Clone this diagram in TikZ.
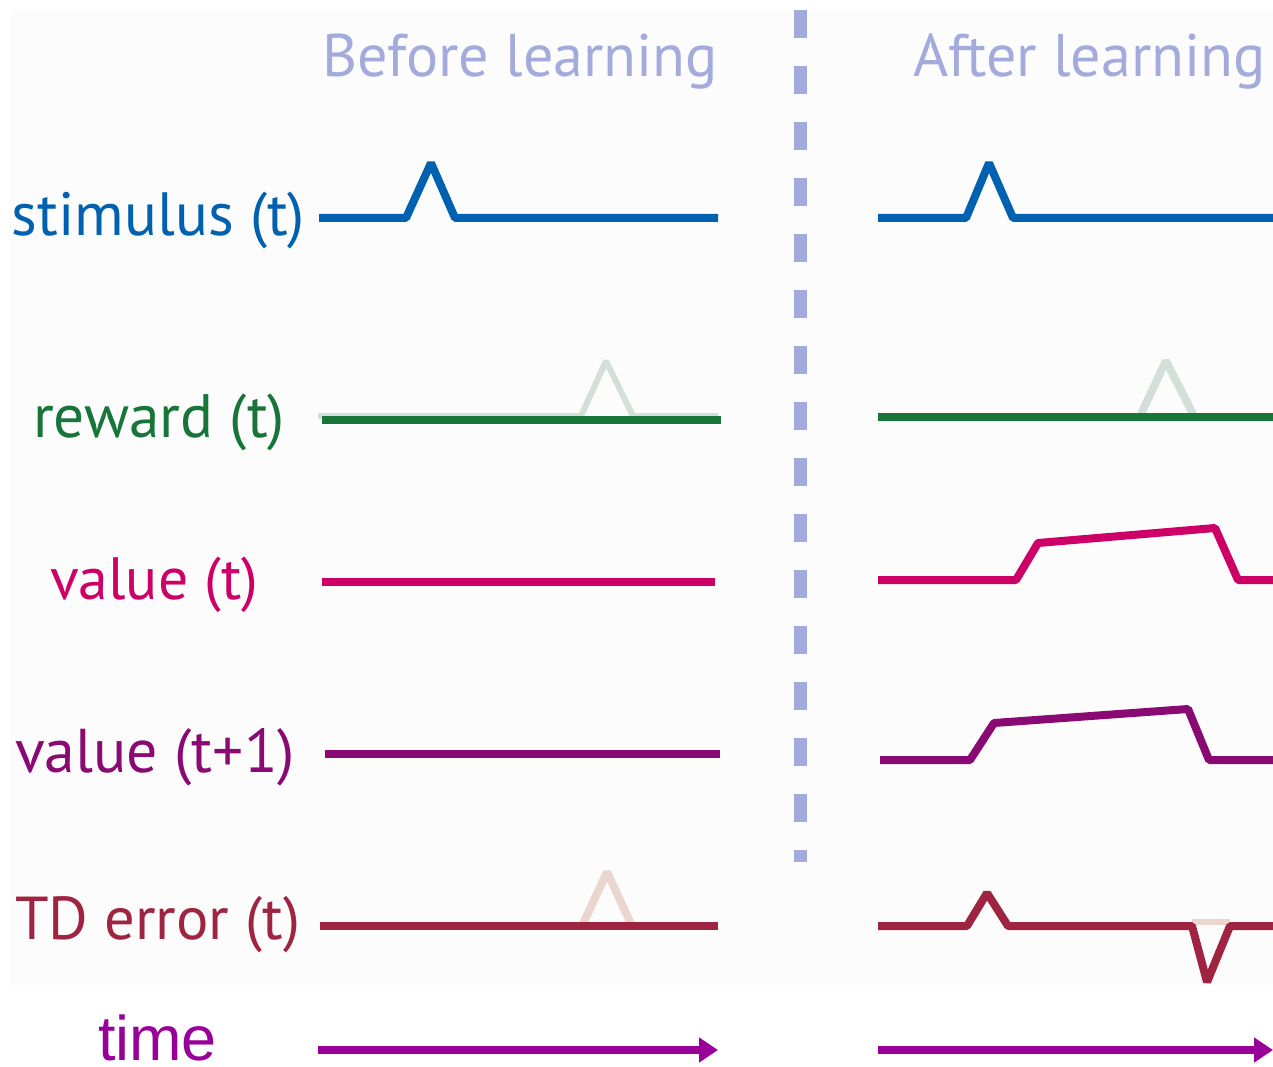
\documentclass[tikz,border=0pt]{standalone}
\usepackage{fontspec}
\setmainfont{PT Sans}
\newfontfamily\timefont{Liberation Sans}
\usetikzlibrary{arrows.meta}

\definecolor{panelgray}{HTML}{FCFCFC}
\definecolor{titlecol}{HTML}{A3ABDC}
\definecolor{stimcol}{HTML}{0061B0}
\definecolor{rewcol}{HTML}{17753A}
\definecolor{rewghost}{HTML}{D3E0D8}
\definecolor{valcol}{HTML}{CC0066}
\definecolor{valnext}{HTML}{8A0A73}
\definecolor{tdcol}{HTML}{9E2442}
\definecolor{tdghost}{HTML}{EAD6CF}
\definecolor{timecol}{HTML}{990099}

\newlength{\titlew}

\begin{document}
% both column titles share one scale, set by the width of the first
\settowidth{\titlew}{\fontsize{50}{60}\selectfont Before learning}%
\pgfmathsetmacro{\tscale}{396/\titlew}%
\begin{tikzpicture}[x=1pt,y=-1pt,
  trace/.style={line width=8pt, line join=bevel},
  ghost/.style={line width=8pt, line join=bevel},
  lbl/.style={anchor=base west, inner sep=0pt, outer sep=0pt},
  timeline/.style={line width=8pt, timecol, -{Triangle[length=19pt,width=24pt]}},
]
\useasboundingbox (0,0) rectangle (1273,1067);
\fill[white] (0,0) rectangle (1273,1067);
\fill[panelgray] (10,10) rectangle (1273,985);

% column titles
\node[lbl, text=titlecol] (before) at (322,77) {\scalebox{\tscale}{\fontsize{50}{60}\selectfont Before learning}};
\node[lbl, text=titlecol] (after) at (913,77) {\scalebox{\tscale}{\fontsize{50}{60}\selectfont After learning}};

% separator
\draw[titlecol, line width=13pt, dash pattern=on 28pt off 28pt] (800,10) -- (800,862);

% row labels
\node[lbl, text=stimcol] (lstim) at (12,236) {\resizebox{293pt}{!}{stimulus (t)}};
\node[lbl, text=rewcol] (lrew) at (33,437) {\resizebox{252pt}{!}{reward (t)}};
\node[lbl, text=valcol] (lval) at (50,599) {\resizebox{208pt}{!}{value (t)}};
\node[lbl, text=valnext] (lvaln) at (15,772) {\resizebox{280pt}{!}{value (t+1)}};
\node[lbl, text=tdcol] (ltd) at (15,939) {\resizebox{285pt}{!}{TD error (t)}};
\node[lbl, text=timecol] (ltime) at (98,1060) {\resizebox{119pt}{!}{\timefont time}};

% stimulus
\draw[trace, stimcol] (319,218) -- (406,218) -- (431,163) -- (455,218) -- (718,218);
\draw[trace, stimcol] (878,218) -- (966,218) -- (989,163) -- (1013,218) -- (1273,218);

% reward: faded earlier trace under the current one
\draw[ghost, rewghost, line width=6pt] (318,416) -- (581,416) -- (606,361) -- (633,416) -- (718,416);
\draw[trace, rewcol] (322,420) -- (721,420);
\draw[ghost, rewghost] (1141,414) -- (1166,361) -- (1193,414);
\draw[trace, rewcol] (878,417) -- (1273,417);

% value (t)
\draw[trace, valcol] (322,582) -- (715,582);
\draw[trace, valcol] (878,580) -- (1016,580) -- (1038,543) -- (1215,528) -- (1238,580) -- (1273,580);

% value (t+1)
\draw[trace, valnext] (325,754) -- (720,754);
\draw[trace, valnext] (880,760) -- (970,760) -- (994,723) -- (1188,709) -- (1209,760) -- (1273,760);

% TD error
\draw[ghost, tdghost] (582,926) -- (607,872) -- (632,926);
\draw[trace, tdcol] (320,926) -- (718,926);
\draw[tdghost, line width=6pt] (1192,922) -- (1230,922);
\draw[trace, tdcol] (878,926) -- (967,926) -- (987,893) -- (1008,926) -- (1192,926) -- (1207,982) -- (1230,926) -- (1273,926);

% time axes
\draw[timeline] (318,1050) -- (718,1050);
\draw[timeline] (878,1050) -- (1273,1050);
\end{tikzpicture}
\end{document}
